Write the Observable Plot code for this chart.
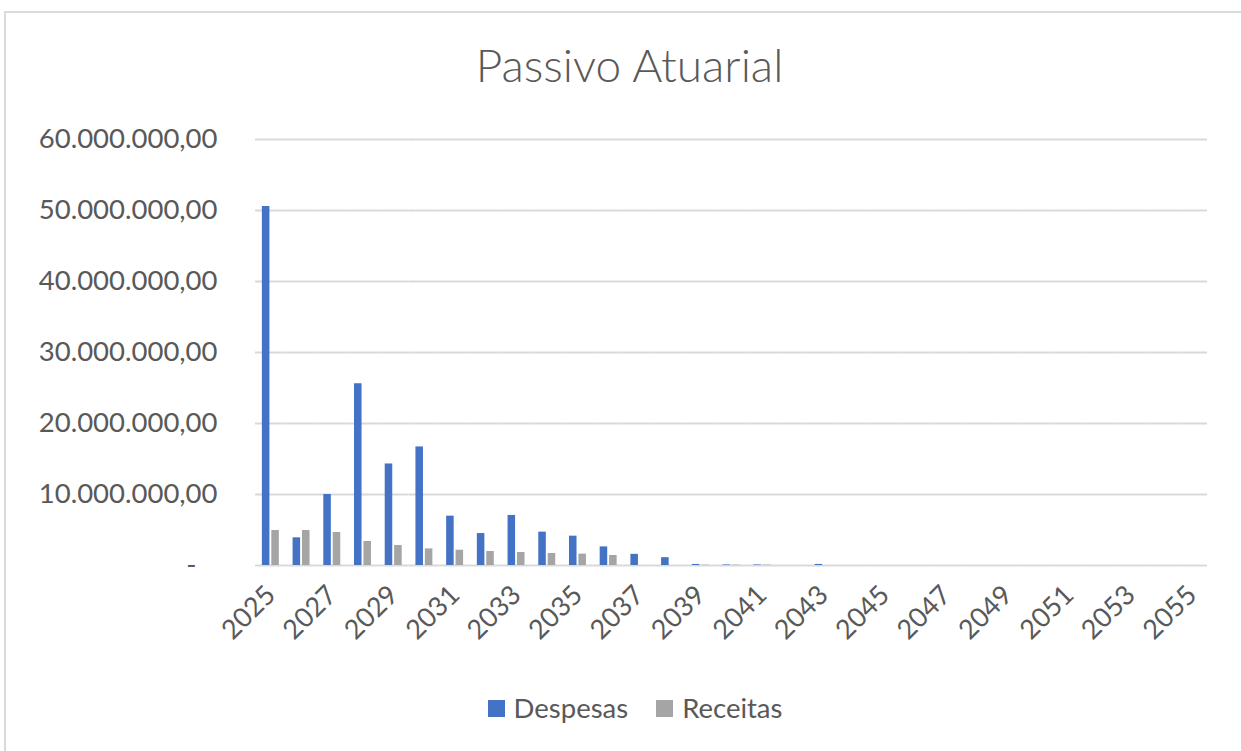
<!DOCTYPE html>
<html>
<head>
<meta charset="utf-8">
<script src="https://cdn.jsdelivr.net/npm/d3@7"></script>
<script src="https://cdn.jsdelivr.net/npm/@observablehq/plot@0.6"></script>
<style>
  html, body { margin: 0; padding: 0; background: #fff; }
  body { width: 1241px; height: 751px; position: relative; overflow: hidden; font-family: Lato, "Open Sans", sans-serif; color: #595959; }
  #frame { position: absolute; left: 4px; top: 11px; width: 1300px; height: 800px; border: 2px solid #d9d9d9; box-sizing: border-box; }
  #title { position: absolute; left: 0; top: 35px; width: 1259px; text-align: center; font-size: 46px; font-weight: 300; line-height: 60px; }
  #chart { position: absolute; left: 0; top: 110px; }
  #legend { position: absolute; top: 691px; left: 0; width: 1270px; display: flex; justify-content: center; gap: 28px; font-size: 27.5px; line-height: 34px; }
  .item { display: flex; align-items: center; gap: 9px; }
  .sw { width: 17px; height: 17px; display: inline-block; }
</style>
</head>
<body>
<div id="frame"></div>
<div id="title">Passivo Atuarial</div>
<div id="chart"></div>
<div id="legend"></div>
<script>
const years = d3.range(2025, 2056);
const seriesNames = ["Despesas", "Receitas"];
const seriesColors = ["#4472C4", "#A5A5A5"];
const despesas = [50.56e6, 3.9e6, 10.0e6, 25.6e6, 14.3e6, 16.7e6, 6.95e6, 4.5e6, 7.05e6, 4.7e6, 4.13e6, 2.62e6, 1.57e6, 1.1e6, 0.15e6, 0.08e6, 0.08e6, 0, 0.15e6, 0, 0, 0, 0, 0, 0, 0, 0, 0, 0, 0, 0];
const receitas = [4.93e6, 4.93e6, 4.65e6, 3.38e6, 2.82e6, 2.34e6, 2.15e6, 1.97e6, 1.83e6, 1.69e6, 1.6e6, 1.41e6, 0, 0, 0.05e6, 0.06e6, 0.06e6, 0, 0, 0, 0, 0, 0, 0, 0, 0, 0, 0, 0, 0, 0];
const yTicks = [0, 10e6, 20e6, 30e6, 40e6, 50e6, 60e6];

const data = [];
years.forEach((yr, i) => {
  data.push({year: yr, series: seriesNames[0], value: despesas[i]});
  data.push({year: yr, series: seriesNames[1], value: receitas[i]});
});

const locale = d3.formatLocale({decimal: ",", thousands: ".", grouping: [3], currency: ["", ""]});
const fmt = locale.format(",.2f");

const chart = Plot.plot({
  width: 1241,
  height: 580,
  marginTop: 29,
  marginBottom: 125,
  marginLeft: 255,
  marginRight: 34,
  style: {fontFamily: "Lato, 'Open Sans', sans-serif", fontSize: "27px", color: "#595959", background: "transparent"},
  fx: {domain: years, padding: 0, round: false, label: null},
  x: {domain: seriesNames, axis: null, round: false, paddingInner: 0.2, paddingOuter: 0.73},
  y: {domain: [0, 60e6], label: null},
  color: {domain: seriesNames, range: seriesColors},
  marks: [
    Plot.ruleY(yTicks, {stroke: "#d9d9d9", strokeWidth: 2}),
    Plot.barY(data, {fx: "year", x: "series", y: "value", fill: "series"}),
    Plot.axisY(yTicks, {tickSize: 0, tickPadding: 38, fontSize: 27.5, label: null,
      tickFormat: d => (d === 0 ? "-\u00a0\u00a0\u00a0" : fmt(d))}),
    Plot.axisFx({anchor: "bottom", tickSize: 0, tickPadding: 25, tickRotate: -45, fontSize: 27, label: null,
      tickFormat: d => (d % 2 === 1 ? String(d) : "")})
  ]
});
document.getElementById("chart").appendChild(chart);

const legend = document.getElementById("legend");
seriesNames.forEach((n, i) => {
  const it = document.createElement("div");
  it.className = "item";
  const sw = document.createElement("span");
  sw.className = "sw";
  sw.style.background = seriesColors[i];
  const t = document.createElement("span");
  t.textContent = n;
  it.appendChild(sw); it.appendChild(t);
  legend.appendChild(it);
});
</script>
</body>
</html>
